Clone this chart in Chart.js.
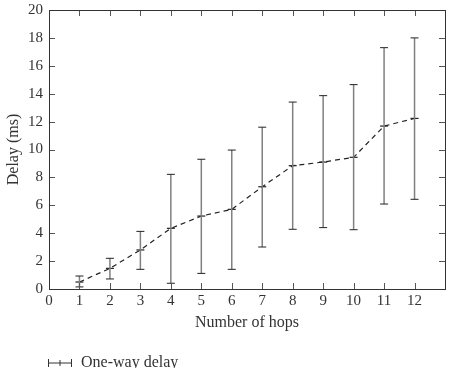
<!DOCTYPE html>
<html>
<head>
<meta charset="utf-8">
<script src="https://cdn.jsdelivr.net/npm/chart.js@4.4.0/dist/chart.umd.min.js"></script>
<style>
  body { margin: 0; background: #fff; overflow: hidden; }
  #wrap { position: relative; width: 451px; height: 368px; }
  #legend { position: absolute; left: 47px; top: 353px; font-family: "Liberation Serif", serif; font-size: 16px; color: #333; white-space: nowrap; }
  #legend svg { vertical-align: middle; margin-right: 8px; }
</style>
</head>
<body>
<div id="wrap">
  <canvas id="chart" width="451" height="368"></canvas>
  <div id="legend"><svg width="26" height="10"><line x1="1" y1="5" x2="25" y2="5" stroke="#333" stroke-width="1"/><line x1="1.5" y1="1" x2="1.5" y2="9" stroke="#333"/><line x1="24.5" y1="1" x2="24.5" y2="9" stroke="#333"/><line x1="13" y1="2" x2="13" y2="8" stroke="#333"/></svg>One-way delay</div>
</div>
<script>
// valori
var hops = [1, 2, 3, 4, 5, 6, 7, 8, 9, 10, 11, 12];
var meanDelay = [0.5, 1.48, 2.8, 4.35, 5.23, 5.71, 7.33, 8.84, 9.1, 9.44, 11.68, 12.23];
var lowDelay = [0.15, 0.72, 1.41, 0.41, 1.12, 1.41, 3.01, 4.28, 4.4, 4.25, 6.09, 6.43];
var highDelay = [0.93, 2.2, 4.13, 8.22, 9.3, 9.96, 11.6, 13.4, 13.86, 14.65, 17.3, 18.0];
var xTicks = [0, 1, 2, 3, 4, 5, 6, 7, 8, 9, 10, 11, 12];
var yTicks = [0, 2, 4, 6, 8, 10, 12, 14, 16, 18, 20];

var serif = '"Liberation Serif", serif';

// barre di errore + tacche interne + cornice
var errorBarsPlugin = {
    id: 'errorBars',
    afterDatasetsDraw: function(chart) {
        var ctx = chart.ctx;
        var xs = chart.scales.x, ys = chart.scales.y;
        ctx.save();
        for (var i = 0; i < hops.length; i++) {
            var px = xs.getPixelForValue(hops[i]);
            var top = ys.getPixelForValue(highDelay[i]);
            var bot = ys.getPixelForValue(lowDelay[i]);
            ctx.strokeStyle = '#808080';
            ctx.lineWidth = 1.5;
            ctx.beginPath();
            ctx.moveTo(px, top);
            ctx.lineTo(px, bot);
            ctx.stroke();
            ctx.strokeStyle = '#222';
            ctx.lineWidth = 1;
            ctx.beginPath();
            ctx.moveTo(px - 4, top); ctx.lineTo(px + 4, top);
            ctx.moveTo(px - 4, bot); ctx.lineTo(px + 4, bot);
            ctx.stroke();
        }
        ctx.restore();
    },
    afterDraw: function(chart) {
        var ctx = chart.ctx;
        var xs = chart.scales.x, ys = chart.scales.y;
        var a = chart.chartArea;
        ctx.save();
        ctx.strokeStyle = '#555';
        ctx.lineWidth = 1;
        ctx.beginPath();
        yTicks.forEach(function(v) {
            var py = Math.round(ys.getPixelForValue(v)) + 0.5;
            ctx.moveTo(a.left, py); ctx.lineTo(a.left + 6, py);
            ctx.moveTo(a.right, py); ctx.lineTo(a.right - 6, py);
        });
        xTicks.forEach(function(v) {
            var px = Math.round(xs.getPixelForValue(v)) + 0.5;
            ctx.moveTo(px, a.bottom); ctx.lineTo(px, a.bottom - 6);
            ctx.moveTo(px, a.top); ctx.lineTo(px, a.top + 6);
        });
        ctx.stroke();
        ctx.strokeStyle = '#333';
        ctx.strokeRect(Math.round(a.left) + 0.5, Math.round(a.top) + 0.5,
            Math.round(a.right - a.left), Math.round(a.bottom - a.top));
        ctx.restore();
    }
};

var chart = new Chart(document.getElementById('chart'), {
    type: 'line',
    data: {
        datasets: [{
            label: 'One-way delay',
            data: hops.map(function(h, i) { return { x: h, y: meanDelay[i] }; }),
            borderColor: '#222',
            borderWidth: 1.2,
            borderDash: [5, 4],
            pointStyle: 'line',
            pointRadius: 4,
            pointBorderColor: '#222',
            pointBorderWidth: 1.2,
            fill: false,
            tension: 0
        }]
    },
    options: {
        responsive: false,
        animation: false,
        layout: { padding: { left: 0, right: 6, top: 10, bottom: 32 } },
        plugins: { legend: { display: false }, tooltip: { enabled: false } },
        scales: {
            x: {
                type: 'linear',
                min: 0,
                max: 13,
                afterBuildTicks: function(s) { s.ticks = xTicks.map(function(v) { return { value: v }; }); },
                afterFit: function(s) { s.height = 47; s.paddingRight = 0; },
                grid: { display: false, drawTicks: false },
                border: { display: false },
                ticks: { color: '#333', font: { family: serif, size: 15 }, padding: 3, maxRotation: 0 },
                title: { display: true, text: 'Number of hops', color: '#333', font: { family: serif, size: 16 }, padding: { top: 4 } }
            },
            y: {
                min: 0,
                max: 20,
                afterBuildTicks: function(s) { s.ticks = yTicks.map(function(v) { return { value: v }; }); },
                afterFit: function(s) { s.width = 49; s.paddingTop = 0; s.paddingBottom = 0; },
                grid: { display: false, drawTicks: false },
                border: { display: false },
                ticks: { color: '#333', font: { family: serif, size: 15 }, padding: 6 },
                title: { display: true, text: 'Delay (ms)', color: '#333', font: { family: serif, size: 16 }, padding: { bottom: 0 } }
            }
        }
    },
    plugins: [errorBarsPlugin]
});
</script>
</body>
</html>
